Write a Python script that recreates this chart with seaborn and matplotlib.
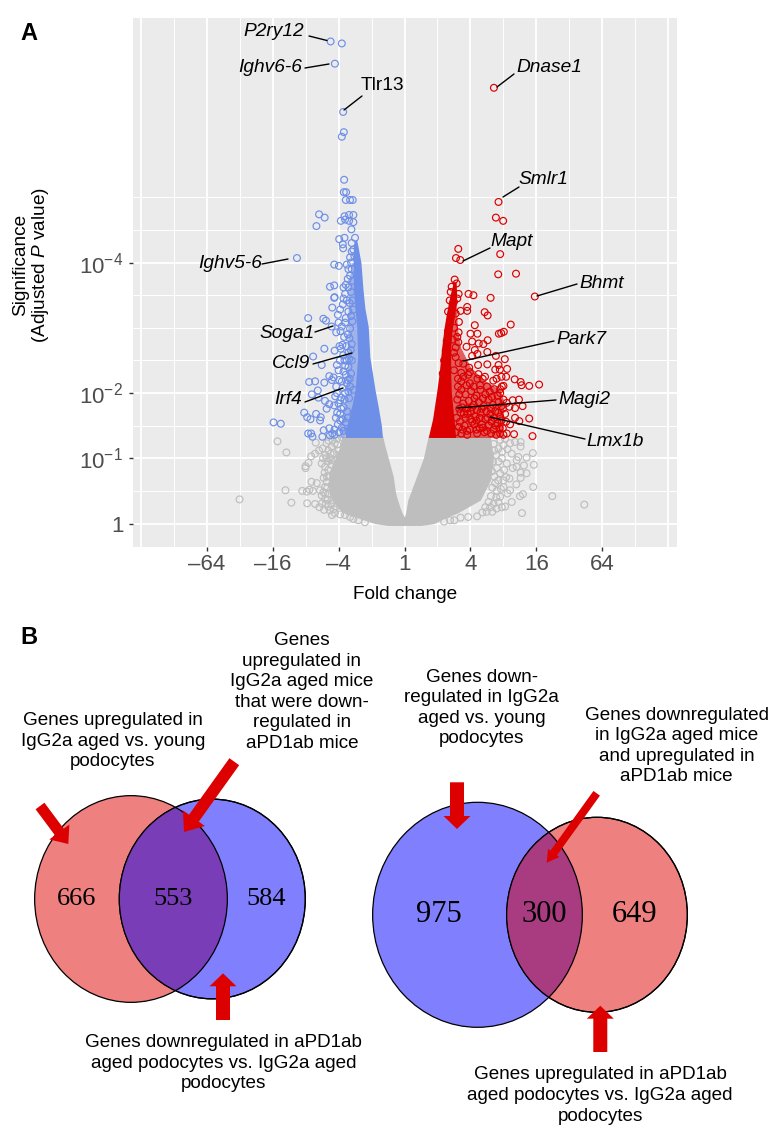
import matplotlib
matplotlib.use("Agg")
import matplotlib.pyplot as plt
from matplotlib.patches import Ellipse, FancyArrow
import pandas as pd
import seaborn as sns

# x = signed log2 fold change, y = -log10 adjusted P
x_ticks = [-6, -4, -2, 0, 2, 4, 6]
x_tick_labels = ["\u201364", "\u201316", "\u20134", "1", "4", "16", "64"]
y_ticks = [0, 1, 2, 4]
y_tick_labels = ["1", "$10^{-1}$", "$10^{-2}$", "$10^{-4}$"]

# outline of the solid clouds
gray_l_y = [-0.03, 0.0, 0.1, 0.15, 0.25, 0.41, 0.5, 0.72, 1.0, 1.2, 1.34]
gray_l_out = [-0.5, -0.9, -1.5, -1.8, -2.05, -2.25, -2.3, -2.3, -2.1, -1.95, -1.9]
gray_l_in = [0.0, 0.0, 0.0, -0.06, -0.14, -0.24, -0.28, -0.34, -0.49, -0.6, -0.66]
gray_r_y = [-0.03, 0.0, 0.1, 0.16, 0.36, 0.66, 1.0, 1.34]
gray_r_out = [0.5, 0.9, 1.3, 1.6, 2.3, 2.6, 2.7, 2.6]
gray_r_in = [0.0, 0.0, 0.0, 0.03, 0.1, 0.32, 0.57, 0.72]

blue_y = [1.32, 1.5, 1.8, 2.04, 2.55, 3.02, 3.3, 3.6, 4.0, 4.25, 4.35]
blue_out = [-1.8, -1.75, -1.6, -1.5, -1.42, -1.45, -1.5, -1.55, -1.55, -1.55, -1.5]
blue_in = [-0.67, -0.7, -0.8, -0.89, -1.05, -1.1, -1.2, -1.26, -1.32, -1.41, -1.45]
blue_band_y = [1.32, 1.6, 2.0, 2.5, 3.0, 3.5, 4.0]
blue_band_out = [-2.0, -1.9, -1.78, -1.72, -1.72, -1.7, -1.62]
blue_band_in = [-0.8, -0.85, -0.95, -1.1, -1.2, -1.3, -1.4]

red_y = [1.32, 1.6, 2.0, 2.3, 2.71, 3.0, 3.22, 3.5, 3.7]
red_in = [0.72, 0.85, 0.97, 1.05, 1.13, 1.2, 1.27, 1.38, 1.48]
red_out = [1.55, 1.5, 1.42, 1.4, 1.4, 1.45, 1.53, 1.58, 1.56]
red_band_y = [1.32, 1.9, 2.05, 2.2, 2.4, 2.7, 3.0, 3.7]
red_band_in = [0.8, 1.0, 1.05, 1.08, 1.1, 1.15, 1.22, 1.5]
red_band_out = [3.0, 3.0, 2.9, 2.4, 2.0, 1.7, 1.6, 1.56]

gray_pts = [
    (-3.85, 1.26), (-3.58, 1.09), (-5.0, 0.37), (-3.61, 0.51), (-3.43, 0.32), (-3.1, 0.5), (-2.96, 0.49),
    (-2.88, 0.52), (-2.78, 0.5), (-2.95, 0.31), (-2.82, 0.64), (-2.66, 0.62), (-3.0, 0.88), (-3.0, 0.85),
    (-2.91, 0.93), (-2.83, 1.03), (-2.71, 1.07), (-2.69, 1.24), (-2.59, 1.12), (-2.48, 1.15), (-2.51, 0.92),
    (-2.36, 1.23), (-2.31, 1.12), (-2.21, 1.18), (-2.26, 1.0), (-2.56, 0.51), (-2.51, 0.43), (-2.41, 0.38),
    (-2.71, 0.3), (-2.58, 0.25), (-2.44, 0.21), (-2.31, 0.26), (-2.26, 0.2), (-2.11, 0.16), (-1.95, 0.14),
    (-1.8, 0.13), (-1.65, 0.1), (-2.41, 0.56), (-2.36, 0.64), (-2.31, 0.82), (-2.41, 0.87), (-2.21, 0.9),
    (-2.16, 0.77), (-2.31, 0.46), (-2.16, 0.36), (-2.06, 0.26), (-2.01, 1.12), (-2.11, 1.23), (-2.05, 1.3),
    (-2.18, 1.28), (-2.4, 1.05), (-2.33, 0.95), (-2.45, 0.7), (-2.38, 0.3), (-2.2, 0.6), (-2.28, 0.72),
    (-2.14, 1.08), (-2.04, 1.21), (-2.12, 0.96), (-2.24, 1.07), (-2.3, 1.27), (-2.36, 1.0), (-2.22, 0.97),
    (-2.47, 1.0), (-2.42, 0.78), (-2.35, 0.72), (-2.4, 0.46), (-2.33, 0.36), (-2.22, 0.3), (-2.15, 0.22),
    (-2.34, 0.55), (-2.46, 0.48), (-1.9, 1.32), (-1.98, 1.05), (-2.08, 0.86), (-2.5, 0.31), (-2.2, 0.13),
    (-1.55, 0.07), (-1.4, 0.05), (-1.2, 0.02), (1.2, 0.03), (1.38, 0.05), (1.7, 0.09),
    (5.45, 0.29), (4.48, 0.42), (3.56, 0.16), (3.9, 0.56), (3.59, 0.45), (3.5, 0.42), (3.39, 0.6), (3.89, 1.08),
    (3.92, 0.9), (3.52, 1.25), (3.52, 1.18), (3.7, 1.01), (3.62, 0.89), (3.4, 0.87), (3.35, 1.25), (3.45, 1.02),
    (3.52, 0.78), (3.7, 0.77), (3.52, 0.7), (3.4, 0.97), (3.2, 1.23), (3.25, 1.07), (3.1, 0.92), (3.18, 0.69),
    (3.08, 0.71), (3.2, 0.51), (3.25, 0.33), (3.05, 0.26), (2.95, 0.25), (2.66, 0.18), (2.2, 0.11), (1.51, 0.05),
    (1.93, 0.1), (2.49, 0.18), (2.79, 0.23), (2.9, 0.41), (3.0, 0.56), (3.12, 0.46), (2.9, 0.77), (2.95, 1.0),
    (3.0, 1.2), (3.05, 1.3), (2.85, 1.15), (2.8, 0.85), (2.75, 0.62), (2.8, 0.5), (2.55, 0.33), (2.62, 0.42),
    (2.7, 1.22), (2.78, 1.05), (2.85, 0.95), (3.02, 0.82), (2.72, 0.72), (2.85, 0.33), (2.68, 0.95), (2.72, 1.12),
    (2.9, 1.28), (2.96, 1.1), (3.0, 0.66), (2.84, 0.66), (2.66, 0.55), (2.7, 0.3), (2.45, 0.25), (2.36, 0.17),
    (2.6, 0.25), (2.78, 0.4), (2.92, 0.53), (2.65, 0.8), (3.12, 1.14), (3.28, 0.85),
]

blue_pts = [
    (-2.24, 7.39), (-1.9, 7.36), (-2.11, 7.05), (-1.86, 6.31), (-1.84, 6.0), (-1.9, 5.93), (-1.83, 5.27),
    (-1.84, 5.08), (-1.77, 5.08), (-1.78, 4.96), (-1.65, 4.96), (-1.57, 4.96), (-2.59, 4.74), (-2.42, 4.69),
    (-2.67, 4.56), (-1.82, 4.71), (-1.68, 4.73), (-1.55, 4.73), (-1.93, 4.64), (-1.8, 4.66), (-1.68, 4.64),
    (-1.55, 4.62), (-1.61, 4.51), (-1.98, 4.36), (-1.82, 4.38), (-1.5, 4.38), (-1.87, 4.28), (-1.86, 4.22),
    (-3.26, 4.07), (-2.13, 3.97), (-1.99, 3.95), (-2.26, 3.63), (-2.13, 3.65), (-2.12, 3.47), (-1.75, 3.97),
    (-1.65, 4.08), (-1.6, 4.17), (-1.7, 3.9), (-1.85, 3.62), (-1.78, 3.66), (-1.85, 3.45), (-1.75, 3.42),
    (-1.65, 3.8), (-1.58, 3.72), (-2.92, 3.15), (-2.46, 3.14), (-2.38, 3.11), (-2.13, 3.46), (-2.19, 3.31),
    (-1.87, 3.36), (-2.21, 3.02), (-2.07, 2.93), (-1.9, 3.02), (-1.8, 3.08), (-1.83, 2.86), (-1.65, 2.99),
    (-1.67, 2.84), (-2.43, 2.68), (-2.77, 2.56), (-2.51, 2.43), (-1.97, 2.72), (-1.93, 2.68), (-2.05, 2.43),
    (-2.0, 2.35), (-1.85, 2.33), (-2.15, 2.24), (-2.28, 2.26), (-2.43, 2.16), (-2.2, 2.2), (-2.89, 2.17),
    (-2.71, 2.18), (-1.98, 2.2), (-2.63, 2.04), (-2.81, 1.98), (-2.61, 1.93), (-2.41, 1.88), (-2.28, 1.83),
    (-2.13, 1.81), (-2.36, 1.76), (-1.95, 1.89), (-3.04, 1.7), (-2.95, 1.63), (-2.85, 1.6), (-2.68, 1.68),
    (-2.54, 1.63), (-2.56, 1.58), (-2.04, 1.7), (-1.95, 1.68), (-1.95, 1.58), (-3.97, 1.55), (-3.75, 1.53),
    (-2.45, 1.43), (-2.28, 1.46), (-2.12, 1.44), (-2.19, 1.38), (-2.26, 1.35), (-2.92, 1.38), (-2.83, 1.38),
    (-2.79, 1.33), (-2.49, 1.33), (-2.12, 1.36), (-1.98, 1.4), (-1.9, 1.47), (-1.88, 1.6), (-1.85, 1.78),
    (-1.92, 1.93), (-1.8, 2.0), (-1.75, 2.15), (-1.82, 2.5), (-1.7, 2.62), (-1.7, 2.4), (-1.6, 2.75),
    (-1.72, 2.2), (-1.65, 2.1), (-1.62, 2.3), (-1.6, 2.5), (-1.55, 2.05), (-1.68, 1.92), (-2.05, 2.0),
    (-1.58, 3.1), (-1.55, 3.28), (-1.62, 3.55), (-2.02, 1.52), (-2.08, 1.62), (-1.85, 1.42), (-1.78, 1.55),
    (-1.74, 1.72), (-1.82, 1.9), (-1.88, 2.08), (-1.9, 2.18), (-1.78, 2.28), (-1.8, 2.42), (-1.86, 2.58),
    (-1.76, 2.72), (-1.72, 2.9), (-1.78, 3.15), (-1.7, 3.25), (-1.66, 3.38), (-1.8, 3.52), (-1.7, 3.62),
    (-1.72, 3.75), (-1.6, 3.9), (-1.62, 4.0), (-1.55, 4.2), (-1.6, 4.3), (-1.52, 4.1), (-1.58, 3.42),
    (-1.62, 3.18), (-1.63, 2.66), (-1.68, 2.52), (-1.66, 2.22), (-1.7, 2.02), (-1.72, 1.62), (-1.7, 1.42),
    (-1.92, 1.76), (-2.0, 1.84), (-2.1, 1.95), (-2.07, 2.1), (-2.12, 2.65), (-1.96, 2.5), (-1.94, 2.95),
    (-1.88, 2.74), (-1.75, 2.5), (-2.02, 3.2), (-2.0, 3.08), (-1.95, 3.28),
]

red_pts = [
    (2.71, 6.68), (2.85, 4.93), (2.77, 4.69), (2.99, 4.64), (1.63, 4.21), (1.56, 4.07), (1.69, 4.04), (2.9, 4.13),
    (2.84, 3.82), (3.38, 3.83), (3.95, 3.48), (1.52, 3.74), (1.58, 3.68), (1.43, 3.63), (1.4, 3.55), (1.64, 3.52),
    (1.94, 3.52), (2.09, 3.5), (2.61, 3.46), (1.6, 3.45), (1.46, 3.37), (1.7, 3.26), (1.9, 3.32), (1.9, 3.26),
    (2.43, 3.24), (2.52, 3.19), (1.65, 3.09), (2.13, 3.04), (3.22, 3.05), (2.0, 2.91), (2.21, 2.91), (2.86, 2.91),
    (2.93, 2.92), (3.01, 2.94), (1.64, 2.93), (1.6, 2.86), (2.52, 2.81), (2.05, 2.79), (2.25, 2.76), (2.39, 2.75),
    (1.63, 2.78), (1.88, 2.71), (2.13, 2.66), (2.51, 2.63), (2.21, 2.6), (2.05, 2.57), (2.77, 2.57), (3.04, 2.52),
    (1.64, 2.46), (1.78, 2.45), (2.23, 2.43), (2.51, 2.44), (2.85, 2.43), (1.96, 2.39), (2.75, 2.36), (2.89, 2.36),
    (3.11, 2.37), (2.24, 2.29), (1.93, 2.28), (1.72, 2.31), (1.78, 2.25), (2.21, 2.22), (2.44, 2.25), (2.37, 2.22),
    (2.94, 2.25), (3.08, 2.25), (2.79, 2.22), (3.34, 2.21), (2.69, 2.19), (3.52, 2.17), (3.55, 2.12), (3.78, 2.11),
    (4.08, 2.13), (2.95, 2.1), (3.0, 2.11), (1.98, 2.15), (1.88, 2.12), (2.29, 2.12), (2.9, 2.0), (3.28, 1.89),
    (3.47, 1.9), (3.58, 1.8), (3.35, 1.77), (3.18, 1.79), (3.35, 1.62), (3.48, 1.57), (3.78, 1.61), (3.2, 1.52),
    (3.32, 1.37), (3.88, 1.34), (3.1, 1.38), (2.9, 1.38), (1.62, 2.1), (1.72, 2.05), (1.85, 1.98), (2.02, 2.03),
    (2.18, 1.96), (2.3, 2.05), (2.45, 1.98), (2.58, 2.02), (2.72, 2.06), (2.82, 1.96), (3.0, 1.9), (3.1, 1.85),
    (1.6, 1.9), (1.78, 1.84), (1.95, 1.88), (2.1, 1.82), (2.25, 1.86), (2.4, 1.8), (2.55, 1.9), (2.68, 1.82),
    (2.85, 1.86), (2.98, 1.76), (3.05, 1.68), (2.9, 1.64), (2.75, 1.72), (2.6, 1.68), (2.45, 1.6), (2.3, 1.7),
    (2.15, 1.64), (2.0, 1.72), (1.85, 1.62), (1.7, 1.7), (1.58, 1.62), (1.65, 1.48), (1.82, 1.5), (1.98, 1.44),
    (2.12, 1.52), (2.28, 1.46), (2.42, 1.4), (2.55, 1.5), (2.7, 1.44), (2.82, 1.54), (2.98, 1.46), (3.08, 1.56),
    (1.72, 1.38), (1.9, 1.36), (2.2, 1.38), (2.35, 1.52), (2.62, 1.38), (3.0, 1.36), (2.78, 1.36), (1.55, 1.4),
    (1.68, 1.56), (1.76, 1.44), (1.9, 1.42), (2.05, 1.56), (2.18, 1.44), (2.38, 1.47), (2.5, 1.42), (2.64, 1.56),
    (2.76, 1.5), (2.88, 1.46), (2.94, 1.58), (1.75, 1.78), (1.9, 1.76), (2.05, 1.78), (2.2, 1.74), (2.34, 1.76),
    (2.48, 1.72), (2.62, 1.76), (2.72, 1.62), (2.84, 1.7), (2.94, 1.8), (1.66, 1.76), (2.0, 1.6), (2.18, 1.58),
    (2.28, 1.62), (2.52, 1.62), (1.92, 1.68), (1.8, 1.68), (2.38, 1.92), (2.12, 1.92), (1.66, 1.98), (2.5, 2.1),
    (2.65, 1.94), (2.9, 2.06), (2.1, 2.1), (1.72, 2.18), (1.98, 2.32), (1.62, 2.22), (1.5, 2.62), (1.46, 2.82),
    (1.5, 3.0), (1.38, 3.1), (1.32, 2.95), (1.42, 3.2), (1.55, 3.22), (1.32, 3.25), (1.5, 3.4), (1.37, 3.42),
    (1.28, 2.8), (1.25, 2.65), (1.55, 2.55), (1.2, 2.5), (1.5, 2.35), (1.16, 2.3), (1.55, 2.7),
]

sns.set_theme(style="ticks")
plt.rcParams["font.family"] = ["Liberation Sans", "DejaVu Sans"]
plt.rcParams["text.color"] = "black"
plt.rcParams["axes.labelcolor"] = "black"
plt.rcParams["mathtext.fontset"] = "custom"
plt.rcParams["mathtext.rm"] = "Liberation Sans"
plt.rcParams["mathtext.it"] = "Liberation Sans:italic"
plt.rcParams["mathtext.default"] = "regular"

GRAY = "#BEBEBE"
BLUE = "#6E8FE8"
RED = "#DC0000"

W, H = 784, 1145
fig = plt.figure(figsize=(W / 100, H / 100), dpi=100)
ax = fig.add_axes([133 / W, 1 - 547 / H, 544 / W, 529 / H])
ax.set_facecolor("#EBEBEB")
for s in ax.spines.values():
    s.set_visible(False)
ax.set_xlim(-8.23, 8.26)
ax.set_ylim(-0.36, 7.75)

# grid, ggplot look
for v in range(-8, 9):
    ax.axvline(v, color="white", lw=1.3 if v % 2 == 0 else 0.7, zorder=0)
for v in [0, 1, 2, 4]:
    ax.axhline(v, color="white", lw=1.3, zorder=0)
for v in [0.5, 1.5, 2.5, 3, 3.5, 4.5, 5]:
    ax.axhline(v, color="white", lw=0.7, zorder=0)

ax.fill_betweenx(gray_l_y, gray_l_out, gray_l_in, color=GRAY, lw=0, zorder=1)
ax.fill_betweenx(gray_r_y, gray_r_in, gray_r_out, color=GRAY, lw=0, zorder=1)
ax.fill_betweenx(blue_band_y, blue_band_out, blue_band_in, color=BLUE, alpha=0.6, lw=0, zorder=2)
ax.fill_betweenx(blue_y, blue_out, blue_in, color=BLUE, lw=0, zorder=2)
ax.fill_betweenx(red_band_y, red_band_in, red_band_out, color=RED, alpha=0.6, lw=0, zorder=2)
ax.fill_betweenx(red_y, red_in, red_out, color=RED, lw=0, zorder=2)

for pts, col in [(gray_pts, GRAY), (blue_pts, BLUE), (red_pts, RED)]:
    df = pd.DataFrame(pts, columns=["log2fc", "log10p"])
    sns.scatterplot(data=df, x="log2fc", y="log10p", ax=ax, s=24, fc="none", ec=col, linewidth=0.85, zorder=3)

ax.set_xticks(x_ticks)
ax.set_xticklabels(x_tick_labels)
ax.set_yticks(y_ticks)
ax.set_yticklabels(y_tick_labels)
ax.tick_params(axis="both", length=3, width=1, color="#333333", labelcolor="#4D4D4D", labelsize=16, pad=2)
ax.tick_params(axis="y", pad=4)
ax.set_xlabel("Fold change", fontsize=13.7, labelpad=8)
ax.set_ylabel("")

# overlay in pixels for labels, leaders and the venn panel
ov = fig.add_axes([0, 0, 1, 1])
ov.set_xlim(0, W)
ov.set_ylim(H, 0)
ov.axis("off")
ov.patch.set_alpha(0)

ov.text(21, 265, "Significance", rotation=90, ha="center", va="center", fontsize=13.7)
ov.text(41, 265, "(Adjusted $\\mathit{P}$ value)", rotation=90, ha="center", va="center", fontsize=13.7)
ov.text(29, 33, "A", fontsize=17, weight="bold", ha="center", va="center")
ov.text(29, 637, "B", fontsize=17, weight="bold", ha="center", va="center")

gene_labels = ["P2ry12", "Ighv6-6", "Tlr13", "Dnase1", "Smlr1", "Mapt", "Bhmt", "Ighv5-6",
               "Park7", "Soga1", "Ccl9", "Magi2", "Irf4", "Lmx1b"]
label_xy = [(274, 31), (270, 67), (382, 85), (549, 68), (543, 179), (512, 241), (602, 283), (230, 263),
            (581, 339), (287, 333), (291, 364), (584, 399), (288, 399), (615, 441)]
leaders = [((309, 36), (327, 40.5)), ((305, 68), (329, 64)), ((362, 96), (344, 110)), ((514, 74), (497, 87)),
           ((519, 187), (503, 197)), ((490, 248), (463, 261)), ((577, 284), (537, 296)), ((262, 264), (288, 259)),
           ((554, 341), (463, 361)), ((315, 332), (333, 326)), ((313, 364), (352, 353)), ((556, 400), (457, 408)),
           ((305, 402), (343, 388)), ((585, 439), (490, 417))]
for name, xy, seg in zip(gene_labels, label_xy, leaders):
    style = "normal" if name == "Tlr13" else "italic"
    ov.text(xy[0], xy[1], name, fontsize=13.8, style=style, ha="center", va="center")
    ov.plot([seg[0][0], seg[1][0]], [seg[0][1], seg[1][1]], color="black", lw=1)

# venn panel
venn_red = "#EE8080"
venn_blue = "#8080FF"


def venn(c1, c2, col1, col2, overlap):
    e1 = Ellipse(c1[:2], c1[2], c1[3], fc=col1, ec="black", lw=0.9)
    e2 = Ellipse(c2[:2], c2[2], c2[3], fc=col2, ec="black", lw=0.9)
    ov.add_patch(e1)
    ov.add_patch(e2)
    lens = Ellipse(c1[:2], c1[2], c1[3], fc=overlap, ec="black", lw=0.9)
    ov.add_patch(lens)
    lens.set_clip_path(e2)
    edge = Ellipse(c2[:2], c2[2], c2[3], fc="none", ec="black", lw=0.9)
    ov.add_patch(edge)


venn((131, 899, 192.7, 206.7), (212.3, 899, 186, 199.7), venn_red, venn_blue, "#7A3DB8")
venn((477.5, 914.8, 209.7, 225), (597, 914.8, 180.7, 195), venn_blue, venn_red, "#A93B80")

count_labels = ["666", "553", "584", "975", "300", "649"]
count_xy = [(77, 899), (172.7, 899), (266, 899), (439, 915), (544.3, 915), (634.7, 915)]
count_sizes = [19, 19, 19, 22, 22, 22]
for t, xy, fs in zip(count_labels, count_xy, count_sizes):
    ov.text(xy[0], xy[1], t, fontsize=fs, family="Liberation Serif", ha="center", va="center", zorder=6)

# (tail x, tail y, tip x, tip y, shaft, head width, head length)
arrows = [(40, 806, 68.3, 844, 11, 25, 15), (234.3, 761.7, 184, 832, 12, 27, 17),
          (223, 1020, 223, 973.3, 14, 27, 13), (457, 782.3, 457, 829, 14, 27, 13),
          (596.7, 793.3, 546.7, 862.7, 8, 14, 12), (600.3, 1052, 600.3, 1005.7, 14, 27, 13)]
for a in arrows:
    ov.add_patch(FancyArrow(a[0], a[1], a[2] - a[0], a[3] - a[1], width=a[4], head_width=a[5], head_length=a[6],
                            length_includes_head=True, fc=RED, ec="none", zorder=5))

notes = ["Genes upregulated in\nIgG2a aged vs. young\npodocytes",
         "Genes\nupregulated in\nIgG2a aged mice\nthat were down-\nregulated in\naPD1ab mice",
         "Genes downregulated in aPD1ab\naged podocytes vs. IgG2a aged\npodocytes",
         "Genes down-\nregulated in IgG2a\naged vs. young\npodocytes",
         "Genes downregulated\nin IgG2a aged mice\nand upregulated in\naPD1ab mice",
         "Genes upregulated in aPD1ab\naged podocytes vs. IgG2a aged\npodocytes"]
note_xy = [(112.7, 741), (302, 692), (223.3, 1063), (481.7, 708), (676.7, 746), (600, 1095.5)]
for t, xy in zip(notes, note_xy):
    ov.text(xy[0], xy[1], t, fontsize=13.6, ha="center", va="center", linespacing=1.27)

fig.savefig("out.png", dpi=100)
